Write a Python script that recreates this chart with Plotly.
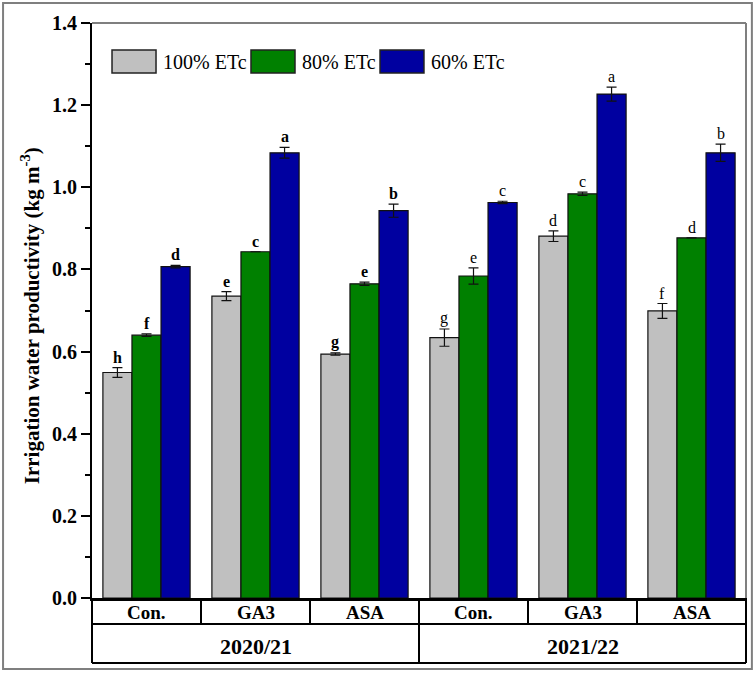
import plotly.graph_objects as go

# ---- data ----
seasons = ["2020/21", "2021/22"]
treatments = ["Con.", "GA3", "ASA", "Con.", "GA3", "ASA"]
series_names = ["100% ETc", "80% ETc", "60% ETc"]
v100 = [0.549, 0.735, 0.594, 0.634, 0.881, 0.699]
v80 = [0.640, 0.843, 0.765, 0.784, 0.984, 0.877]
v60 = [0.807, 1.084, 0.943, 0.963, 1.227, 1.084]
e100 = [0.012, 0.011, 0.003, 0.021, 0.013, 0.018]
e80 = [0.003, 0.0, 0.004, 0.020, 0.004, 0.0]
e60 = [0.003, 0.013, 0.016, 0.003, 0.017, 0.021]
let100 = ["h", "e", "g", "g", "d", "f"]
let80 = ["f", "c", "e", "e", "c", "d"]
let60 = ["d", "a", "b", "c", "a", "b"]
y_ticks = [0.0, 0.2, 0.4, 0.6, 0.8, 1.0, 1.2, 1.4]

colors = ["#c0c0c0", "#008000", "#0000a0"]
FONT = "Liberation Serif"

values = [v100, v80, v60]
errors = [e100, e80, e60]
letters = [let100, let80, let60]
xs = list(range(len(treatments)))

fig = go.Figure()
for k in range(3):
    fig.add_trace(go.Bar(
        x=xs, y=values[k], name=series_names[k],
        marker=dict(color=colors[k], line=dict(color="#111111", width=1.2)),
        error_y=dict(type="data", array=errors[k], color="#111111", thickness=1.2, width=5),
    ))

bargap = 0.2
bw = (1 - bargap) / 3
annotations = []
for k in range(3):
    for i in xs:
        t = letters[k][i]
        if i < 3:
            t = "<b>" + t + "</b>"
        annotations.append(dict(
            x=i + (k - 1) * bw, y=values[k][i] + errors[k][i], xref="x", yref="y",
            text=t, showarrow=False, xanchor="center", yanchor="bottom", yshift=0,
            font=dict(family=FONT, size=16, color="black"),
        ))

# y-axis title
annotations.append(dict(
    x=-0.094, y=0.491, xref="paper", yref="paper", textangle=-90,
    xanchor="center", yanchor="middle",
    text="<b>Irrigation water productivity (kg m<sup>-3</sup>)</b>",
    showarrow=False, font=dict(family=FONT, size=21, color="black"),
))

shapes = []
# plot frame top/right (gray)
shapes.append(dict(type="line", xref="paper", yref="paper", x0=0, x1=1, y0=1, y1=1,
                   line=dict(color="#7f7f7f", width=2)))
shapes.append(dict(type="line", xref="paper", yref="paper", x0=1, x1=1, y0=0, y1=1,
                   line=dict(color="#7f7f7f", width=2)))
# outer frame
shapes.append(dict(type="rect", xref="paper", yref="paper", x0=-0.136, x1=1.009,
                   y0=-0.1235, y1=1.0348, line=dict(color="#7f7f7f", width=2)))

# category table below axis
n = len(treatments)
r1 = -0.0452
r2 = -0.113
tl = dict(color="black", width=2)
def px(v):
    return (v + 0.5) / n
shapes.append(dict(type="line", xref="paper", yref="paper", x0=0, x1=1, y0=r1, y1=r1, line=tl))
shapes.append(dict(type="line", xref="paper", yref="paper", x0=0, x1=1, y0=r2, y1=r2, line=tl))
shapes.append(dict(type="line", xref="paper", yref="paper", x0=0, x1=0, y0=0, y1=r2, line=tl))
shapes.append(dict(type="line", xref="paper", yref="paper", x0=1, x1=1, y0=0, y1=r2, line=tl))
for i in range(n - 1):
    bnd = px(i + 0.5)
    yb = r2 if i == 2 else r1
    shapes.append(dict(type="line", xref="paper", yref="paper", x0=bnd, x1=bnd, y0=0, y1=yb, line=tl))
for i in xs:
    annotations.append(dict(x=px(i), y=-0.025, xref="paper", yref="paper",
                            xanchor="center", yanchor="middle",
                            text="<b>" + treatments[i] + "</b>", showarrow=False,
                            font=dict(family=FONT, size=19, color="black")))
for s, season in enumerate(seasons):
    annotations.append(dict(x=px(s * 3 + 1), y=-0.085, xref="paper", yref="paper",
                            xanchor="center", yanchor="middle",
                            text="<b>" + season + "</b>", showarrow=False,
                            font=dict(family=FONT, size=22, color="black")))

# manual legend
leg_boxes = [(0.0306, 0.0979), (0.2431, 0.3104), (0.4404, 0.5076)]
for k in range(3):
    x0, x1 = leg_boxes[k]
    shapes.append(dict(type="rect", xref="paper", yref="paper", x0=x0, x1=x1,
                       y0=0.913, y1=0.953, fillcolor=colors[k],
                       line=dict(color="#222222", width=1.5)))
    annotations.append(dict(x=x1 + 0.008, y=0.933, xref="paper", yref="paper",
                            text=series_names[k], showarrow=False,
                            xanchor="left", yanchor="middle",
                            font=dict(family=FONT, size=20, color="black")))

fig.update_layout(
    width=755, height=673,
    margin=dict(l=92, r=9, t=23, b=75),
    paper_bgcolor="white", plot_bgcolor="white",
    barmode="group", bargap=bargap, bargroupgap=0,
    showlegend=False,
    shapes=shapes, annotations=annotations,
    xaxis=dict(range=[-0.5, 5.5], showticklabels=False, ticks="", showgrid=False,
               zeroline=False, showline=True, linecolor="black", linewidth=3),
    yaxis=dict(range=[0, 1.4], tickvals=y_ticks, ticktext=["%.1f" % v for v in y_ticks],
               ticks="outside", ticklen=9, tickwidth=2, tickcolor="black",
               minor=dict(dtick=0.1, ticks="outside", ticklen=5, tickwidth=2, tickcolor="black"),
               showgrid=False, zeroline=False, showline=True, linecolor="black", linewidth=2,
               tickfont=dict(family=FONT, size=20, color="black", weight="bold")),
)

fig.write_html("out.html")
